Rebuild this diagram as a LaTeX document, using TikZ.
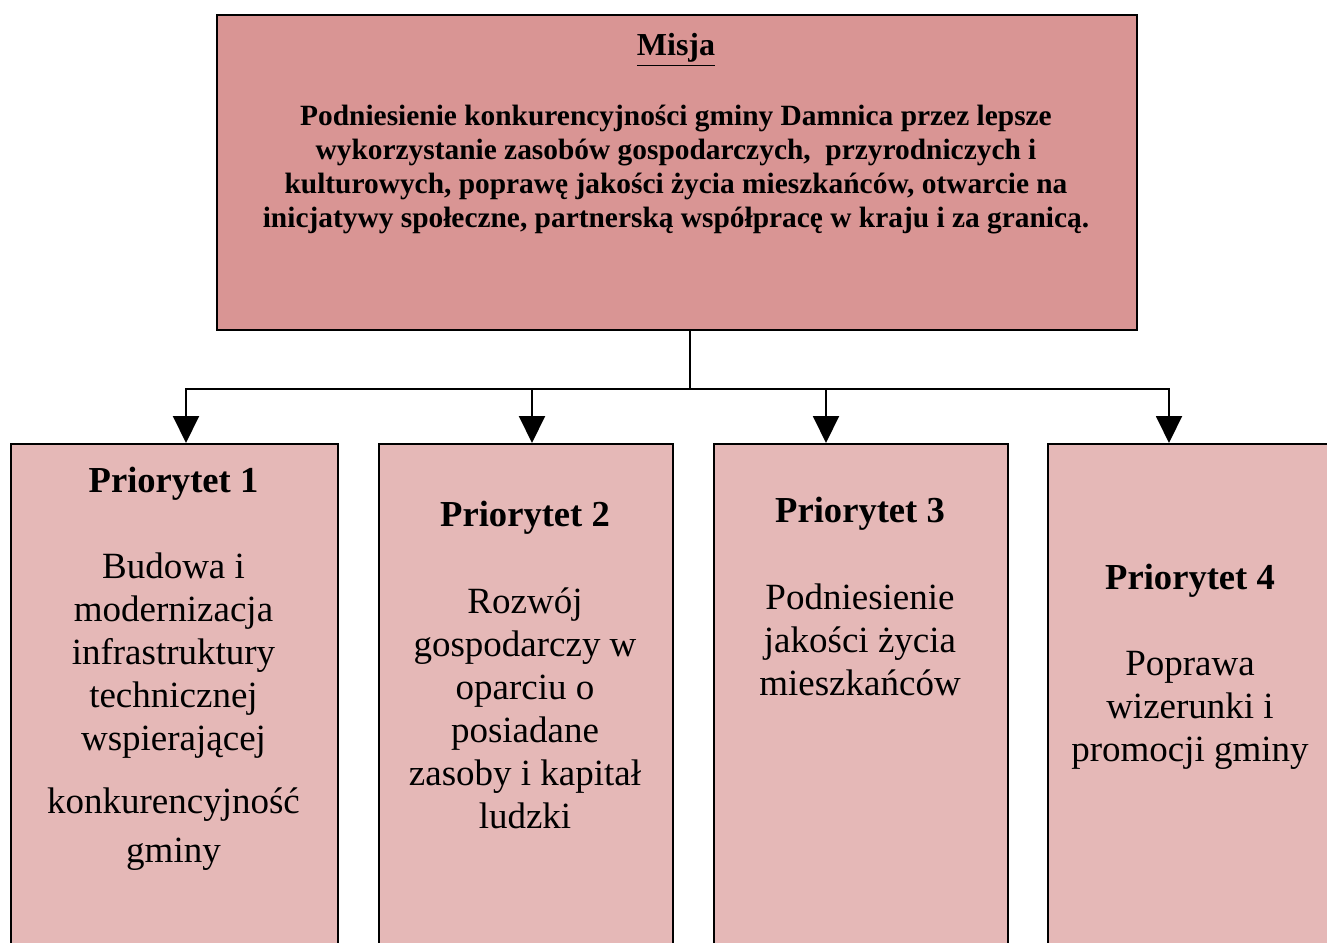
\documentclass[tikz,border=0pt]{standalone}
\usepackage{fontspec}
\setmainfont{Liberation Serif}
\usetikzlibrary{arrows.meta,positioning}
\definecolor{misjared}{HTML}{D99594}
\definecolor{priopink}{HTML}{E5B8B7}

\begin{document}
\begin{tikzpicture}[x=0.5pt,y=0.5pt,
	misjabox/.style={draw=black,line width=1pt,fill=misjared,anchor=north west,
		minimum width=460pt,minimum height=157.5pt,inner sep=0pt},
	priobox/.style={draw=black,line width=1pt,fill=priopink,anchor=north west,
		minimum height=270pt,inner sep=0pt},
	misjatext/.style={align=center,inner sep=0pt,font=\fontsize{14.7}{17}\selectfont\bfseries},
	priohead/.style={inner sep=0pt,font=\fontsize{18.3}{21.5}\selectfont\bfseries},
	priotext/.style={anchor=north,align=center,inner sep=0pt,font=\fontsize{18.5}{21.5}\selectfont},
	conn/.style={line width=1pt},
	arr/.style={line width=1pt,-{Triangle[length=13.5pt,width=13pt]}}]
	
	\useasboundingbox (0,0) rectangle (1327,-942);
	\clip (0,0) rectangle (1327,-942);
	
	% Misja
	\node [misjabox] (misja) at (216,-14) {};
	\node [misjatext,font=\fontsize{16}{17}\selectfont\bfseries] (misjahead) at (676,-50) {\underline{Misja}};
	\node [misjatext,anchor=north] (misjabody) at (676,-105) {Podniesienie konkurencyjności gminy Damnica przez lepsze\\
		wykorzystanie zasobów gospodarczych,\ \ przyrodniczych i\\
		kulturowych, poprawę jakości życia mieszkańców, otwarcie na\\
		inicjatywy społeczne, partnerską współpracę w kraju i za granicą.};
	
	% priorytet 1
	\node [priobox,minimum width=163.5pt] (p1) at (10,-443) {};
	\node [priohead] (p1head) at (173.5,-484) {Priorytet 1};
	\node [priotext] (p1body) at (173.5,-552) {Budowa i\\modernizacja\\infrastruktury\\technicznej\\wspierającej\\[10pt]
		konkurencyjność\\[3pt]gminy};
	
	% priorytet 2
	\node [priobox,minimum width=147pt] (p2) at (378,-443) {};
	\node [priohead] (p2head) at (525,-518) {Priorytet 2};
	\node [priotext] (p2body) at (525,-587) {Rozwój\\gospodarczy w\\oparciu o\\posiadane\\zasoby i kapitał\\ludzki};
	
	% priorytet 3
	\node [priobox,minimum width=147pt] (p3) at (713,-443) {};
	\node [priohead] (p3head) at (860,-514) {Priorytet 3};
	\node [priotext] (p3body) at (860,-583) {Podniesienie\\jakości życia\\mieszkańców};
	
	% priorytet 4
	\node [priobox,minimum width=143pt] (p4) at (1047,-443) {};
	\node [priohead] (p4head) at (1190,-581) {Priorytet 4};
	\node [priotext] (p4body) at (1190,-651) {Poprawa\\wizerunki i\\promocji gminy};
	
	% connectors
	\coordinate (hub) at (690,-389);
	\coordinate (a1) at ([xshift=5.75pt]p1.north);
	\coordinate (a2) at ([xshift=3pt]p2.north);
	\coordinate (a3) at ([xshift=-17.5pt]p3.north);
	\coordinate (a4) at ([xshift=-11pt]p4.north);
	\draw [conn] (misja.south -| hub) -- (hub);
	\draw [arr] (hub) -| (a1);
	\draw [arr] (hub) -| (a4);
	\draw [arr] (hub -| a2) -- (a2);
	\draw [arr] (hub -| a3) -- (a3);
	
\end{tikzpicture}
\end{document}
